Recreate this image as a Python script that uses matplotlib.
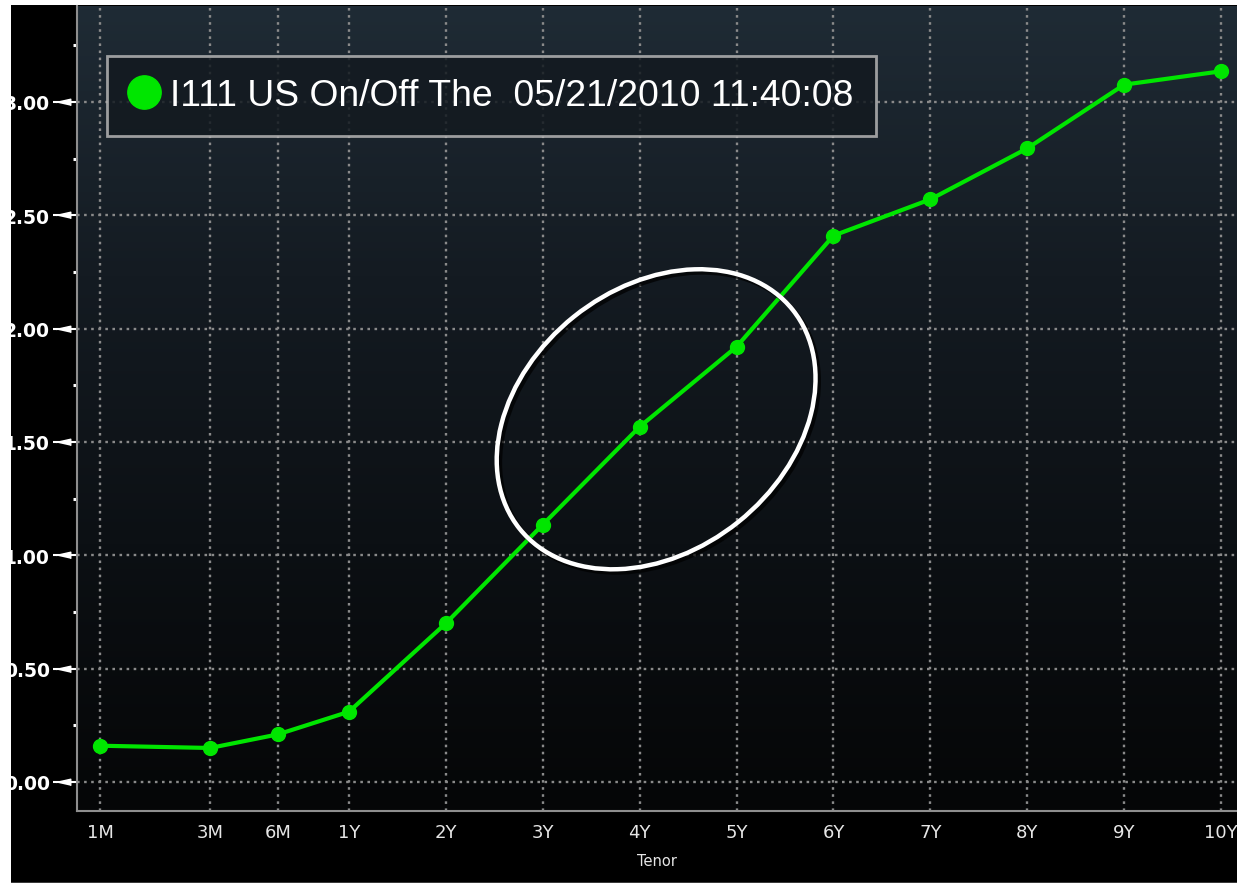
import numpy as np
import matplotlib
matplotlib.use("Agg")
import matplotlib.pyplot as plt
from matplotlib.patches import Rectangle, Ellipse
from matplotlib.lines import Line2D
from matplotlib.colors import LinearSegmentedColormap
from matplotlib.transforms import blended_transform_factory, ScaledTranslation

# ── Datos de la curva ─────────────────────────────────────
tenores   = ["1M", "3M", "6M", "1Y", "2Y", "3Y", "4Y", "5Y",
             "6Y", "7Y", "8Y", "9Y", "10Y"]
posicion  = [-1.57, -0.434, 0.267, 1, 2, 3, 4, 5, 6, 7, 8, 9, 10]
tasas     = [0.16, 0.15, 0.21, 0.31, 0.70, 1.135, 1.567, 1.92,
             2.41, 2.57, 2.795, 3.076, 3.135]
y_ticks   = [0.0, 0.5, 1.0, 1.5, 2.0, 2.5, 3.0]
y_labels  = ["0.00", "0.50", "1.00", "1.50", "2.00", "2.50", "3.00"]
leyenda   = "I111 US On/Off The  05/21/2010 11:40:08"

C_VERDE  = "#00e600"
C_GRID   = "#8a8a8a"
C_SPINE  = "#8e8e8e"
C_TEXTO  = "#e6e6e6"

W, H = 1237, 887
fig = plt.figure(figsize=(W / 100, H / 100), dpi=100, facecolor="white")

# panel negro de fondo
fig.add_artist(Rectangle((11 / W, 4 / H), 1 - 11 / W, 1 - 10 / H,
                         transform=fig.transFigure, facecolor="black",
                         edgecolor="none", zorder=-10))
fig.add_artist(Rectangle((11 / W, 3 / H), 1 - 11 / W, 1.5 / H,
                         transform=fig.transFigure, facecolor="#3a3a3a",
                         edgecolor="none", zorder=-9))

ax = fig.add_axes([77 / W, 75 / H, 1160 / W, 805 / H])
ax.set_xlim(-1.807, 10.165)
ax.set_ylim(-0.128, 3.423)

# degradado del fondo
cmap = LinearSegmentedColormap.from_list(
    "fondo", ["#050607", "#0c1014", "#141b22", "#1f2b35"])
grad = np.linspace(0, 1, 256).reshape(-1, 1)
ax.imshow(grad, cmap=cmap, origin="lower", aspect="auto",
          extent=[0, 1, 0, 1], transform=ax.transAxes, zorder=0)

# rejilla punteada
for xv in posicion:
    ax.axvline(xv, color=C_GRID, linewidth=1.7,
               linestyle=(0, (1.1, 1.9)), zorder=1)
for yv in y_ticks:
    ax.axhline(yv, color=C_GRID, linewidth=1.7,
               linestyle=(0, (1.1, 1.9)), zorder=1)

# curva
ax.plot(posicion, tasas, color=C_VERDE, linewidth=3, marker="o",
        markersize=10, zorder=4)

# elipse resaltando 3Y-5Y
centro = ScaledTranslation(4.17, 1.60, ax.transData)
sombra = ScaledTranslation(0.03, -0.03, fig.dpi_scale_trans)
ax.add_patch(Ellipse((0, 0), 3.5, 2.63, angle=38.7, fill=False,
                     edgecolor="black", linewidth=3.5, alpha=0.7,
                     transform=fig.dpi_scale_trans + centro + sombra,
                     zorder=5))
ax.add_patch(Ellipse((0, 0), 3.5, 2.63, angle=38.7, fill=False,
                     edgecolor="white", linewidth=3.2,
                     transform=fig.dpi_scale_trans + centro, zorder=6))

# ejes
for lado in ["top", "right"]:
    ax.spines[lado].set_visible(False)
for lado in ["left", "bottom"]:
    ax.spines[lado].set_color(C_SPINE)
    ax.spines[lado].set_linewidth(1.5)

ax.set_xticks(posicion)
ax.set_xticklabels(tenores, color=C_TEXTO, fontsize=13)
ax.tick_params(axis="x", length=0, pad=9)

ax.set_yticks(y_ticks)
ax.set_yticklabels(y_labels, color="white", fontsize=13.5, fontweight="bold")
ax.set_yticks(np.arange(0.25, 3.3, 0.5), minor=True)
ax.tick_params(axis="y", which="major", length=17, width=1.5,
               color="white", pad=2.5)
ax.tick_params(axis="y", which="minor", length=3, width=2.2,
               color="white")

# flechas de las marcas del eje y
flecha = blended_transform_factory(ax.transAxes, ax.transData) + \
    ScaledTranslation(-0.145, 0, fig.dpi_scale_trans)
ax.scatter([0] * len(y_ticks), y_ticks, s=110,
           marker=[(-1, 0), (1, 0.45), (1, -0.45)], color="white",
           transform=flecha, clip_on=False, zorder=7)

ax.set_xlabel("Tenor", color=C_TEXTO, fontsize=10.5, labelpad=8)

# leyenda
proxy = Line2D([], [], linestyle="none", marker="o", markersize=24,
               color=C_VERDE)
leg = ax.legend([proxy], [leyenda], loc="upper left",
                bbox_to_anchor=(30 / 1160, 1 - 50 / 805),
                borderaxespad=0, frameon=True, fancybox=False,
                facecolor="#131a20", edgecolor="#b4b4b4", framealpha=0.85,
                handlelength=0.8, handletextpad=0.3, borderpad=0.6,
                prop={"family": ["Liberation Sans", "DejaVu Sans"],
                      "size": 26.8})
leg.get_frame().set_linewidth(2)
for t in leg.get_texts():
    t.set_color("white")
leg.set_zorder(8)

plt.savefig("out.png", dpi=100, facecolor="white")
